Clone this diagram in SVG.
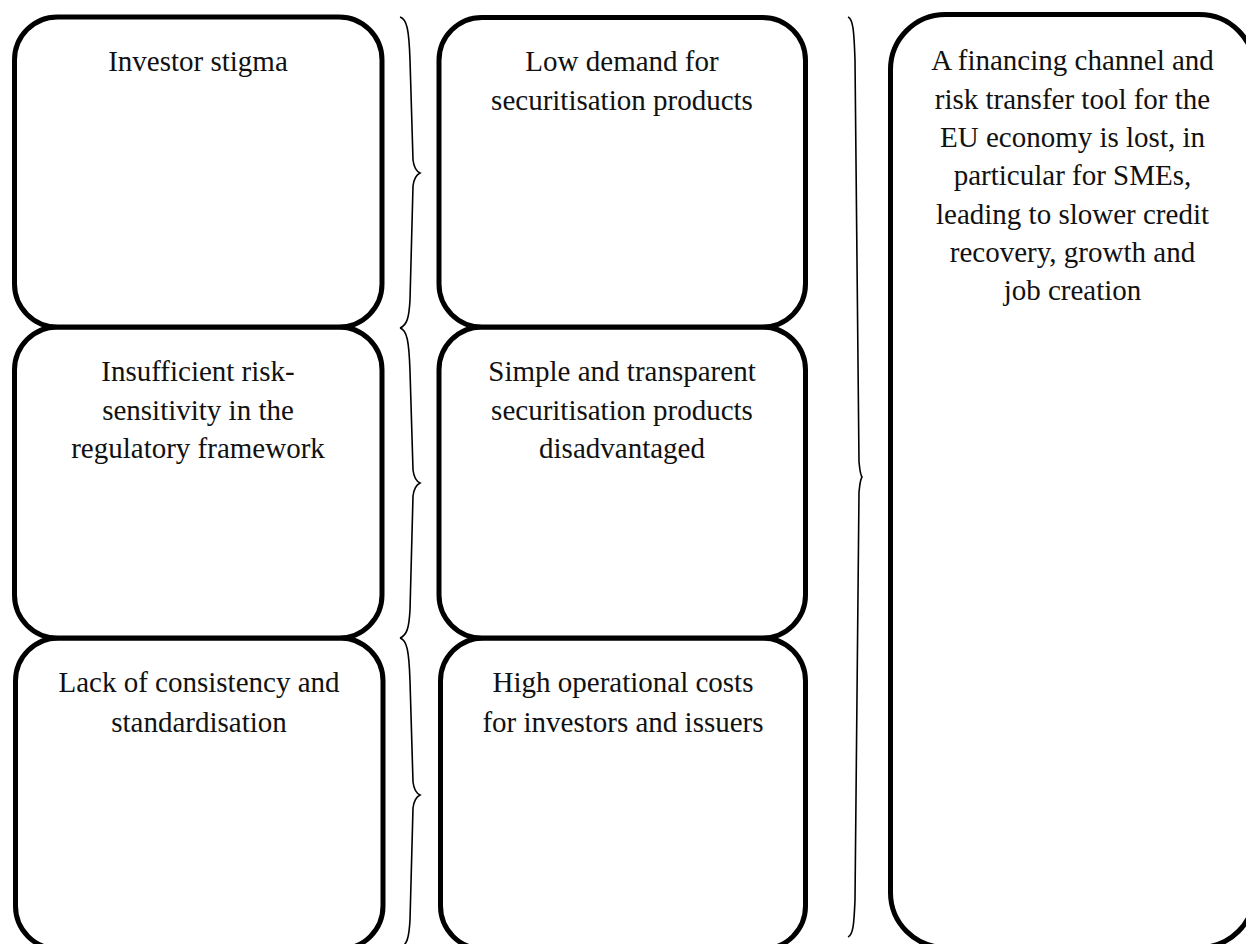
<svg xmlns="http://www.w3.org/2000/svg" width="1246" height="944" viewBox="0 0 1246 944">
<style>
.box{fill:#fff;stroke:#000;stroke-width:5}
.brace{fill:none;stroke:#000;stroke-width:1.6}
text{font-family:"Liberation Serif","Times New Roman",serif;font-size:29px;fill:#111;text-anchor:middle}
</style>
<rect width="1246" height="944" fill="#fff"/>
<g id="right-box">
<rect class="box" x="890.5" y="14.5" width="364" height="933" rx="55" ry="55"/>
<text x="1072.5" y="70">A financing channel and</text>
<text x="1072.5" y="108.5">risk transfer tool for the</text>
<text x="1072.5" y="147">EU economy is lost, in</text>
<text x="1072.5" y="185">particular for SMEs,</text>
<text x="1072.5" y="223.5">leading to slower credit</text>
<text x="1072.5" y="262">recovery, growth and</text>
<text x="1072.5" y="300">job creation</text>
</g>
<g id="left-3">
<rect class="box" x="15.5" y="638" width="367.5" height="311" rx="43" ry="43"/>
<text x="199" y="692">Lack of consistency and</text>
<text x="199" y="731.5">standardisation</text>
</g>
<g id="left-2">
<rect class="box" x="14.5" y="327" width="367.5" height="311" rx="43" ry="43"/>
<text x="198" y="381">Insufficient risk-</text>
<text x="198" y="419.5">sensitivity in the</text>
<text x="198" y="458">regulatory framework</text>
</g>
<g id="left-1">
<rect class="box" x="14.5" y="17" width="367.5" height="310" rx="43" ry="43"/>
<text x="198" y="71">Investor stigma</text>
</g>
<g id="mid-3">
<rect class="box" x="440.5" y="638" width="365" height="311" rx="43" ry="43"/>
<text x="623" y="692">High operational costs</text>
<text x="623" y="731.5">for investors and issuers</text>
</g>
<g id="mid-2">
<rect class="box" x="439" y="327" width="366.5" height="311" rx="43" ry="43"/>
<text x="622" y="381">Simple and transparent</text>
<text x="622" y="419.5">securitisation products</text>
<text x="622" y="458">disadvantaged</text>
</g>
<g id="mid-1">
<rect class="box" x="439" y="17.5" width="366.5" height="309.5" rx="43" ry="43"/>
<text x="622" y="71">Low demand for</text>
<text x="622" y="110">securitisation products</text>
</g>
<g id="connectors">
<path class="brace" d="M400,17 C407,19 409,30 410,60 L413,160 C414,168 416,171 420,173 C416,175 414,178 413,186 L410,300 C409,318 407,325 400,328"/>
<path class="brace" d="M400,328 C407,330 409,341 410,371 L413,470 C414,478 416,481 420,483 C416,485 414,488 413,496 L410,610 C409,628 407,635 400,638"/>
<path class="brace" d="M400,638 C407,640 409,651 410,681 L413,782 C414,790 416,793 420,795 C416,797 414,800 413,808 L410,920 C409,938 407,945 400,948"/>
<path class="brace" d="M848,17 C853,19 854,30 855,60 L859,462 C860,470 860,474 862,477 C860,480 860,484 859,492 L855,900 C854,925 853,935 848,937"/>
</g>
</svg>
